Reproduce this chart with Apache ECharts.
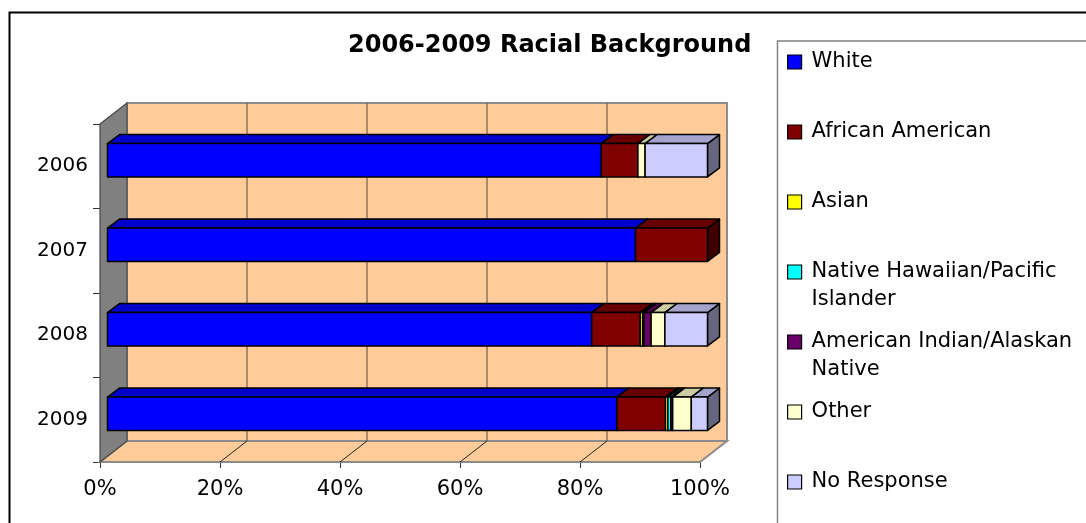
<!DOCTYPE html>
<html>
<head>
<meta charset="utf-8">
<script src="https://cdn.jsdelivr.net/npm/echarts@6/dist/echarts.min.js"></script>
<style>
  html, body { margin: 0; padding: 0; background: #fff; }
  #chart { width: 1086px; height: 523px; }
</style>
</head>
<body>
<div id="chart"></div>
<script>
// Survey years (rows) and the share of each racial group per year, in percent
const categories = ['2006', '2007', '2008', '2009'];
const white            = [82.3, 88.0, 80.7, 84.9];
const africanAmerican  = [6.1, 12.0, 8.1, 8.1];
const asian            = [0, 0, 0.4, 0.4];
const nativeHawaiian   = [0, 0, 0.2, 0.5];
const americanIndian   = [0, 0, 1.2, 0.3];
const other            = [1.2, 0, 2.3, 3.1];
const noResponse       = [10.4, 0, 7.1, 2.7];
const xTicks = [0, 20, 40, 60, 80, 100];

const groups = [
  { name: 'White', values: white, color: '#0000FF' },
  { name: 'African American', values: africanAmerican, color: '#800000' },
  { name: 'Asian', values: asian, color: '#FFFF00' },
  { name: 'Native Hawaiian/Pacific Islander', values: nativeHawaiian, color: '#00FFFF', label: 'Native Hawaiian/Pacific\nIslander' },
  { name: 'American Indian/Alaskan Native', values: americanIndian, color: '#660066', label: 'American Indian/Alaskan\nNative' },
  { name: 'Other', values: other, color: '#FFFFCC' },
  { name: 'No Response', values: noResponse, color: '#CCCCFF' }
];

const FONT = 'DejaVu Sans';
// depth of the chart box (back wall offset) and of each bar
const WALL_DX = 27, WALL_DY = 21;
const BAR_DX = 12, BAR_DY = 9;
const BAR_OX = (WALL_DX - BAR_DX) / 2, BAR_OY = (WALL_DY - BAR_DY) / 2;
const BAR_RATIO = 0.394;

function shade(hex, k) {
  const n = parseInt(hex.slice(1), 16);
  const r = Math.round(((n >> 16) & 255) * k);
  const g = Math.round(((n >> 8) & 255) * k);
  const b = Math.round((n & 255) * k);
  return 'rgb(' + r + ',' + g + ',' + b + ')';
}

// cumulative starting point of each segment per year
const starts = groups.map(() => categories.map(() => 0));
categories.forEach((c, ci) => {
  let acc = 0;
  groups.forEach((g, gi) => { starts[gi][ci] = acc; acc += g.values[ci]; });
});

// back wall, side wall, floor and gridlines
function renderWalls(params, api) {
  const cs = params.coordSys;
  const top = cs.y, bottom = cs.y + cs.height;
  const x0 = api.coord([0, 0])[0];
  const x100 = api.coord([100, 0])[0];
  const children = [];
  // back wall
  children.push({
    type: 'polygon',
    shape: { points: [[x0 + WALL_DX, top - WALL_DY], [x100 + WALL_DX, top - WALL_DY], [x100 + WALL_DX, bottom - WALL_DY], [x0 + WALL_DX, bottom - WALL_DY]] },
    style: { fill: '#FFCC99', stroke: '#8c8c8c', lineWidth: 2 }
  });
  // floor
  children.push({
    type: 'polygon',
    shape: { points: [[x0, bottom], [x0 + WALL_DX, bottom - WALL_DY], [x100 + WALL_DX, bottom - WALL_DY], [x100, bottom]] },
    style: { fill: '#FFCC99', stroke: '#8c8c8c', lineWidth: 2 }
  });
  // gridlines on the back wall and across the floor
  xTicks.forEach(v => {
    if (v === 0 || v === 100) return;
    const x = api.coord([v, 0])[0];
    children.push({
      type: 'line',
      shape: { x1: x + WALL_DX, y1: top - WALL_DY, x2: x + WALL_DX, y2: bottom - WALL_DY },
      style: { stroke: '#806650', lineWidth: 1.3 }
    });
    children.push({
      type: 'line',
      shape: { x1: x + WALL_DX, y1: bottom - WALL_DY, x2: x, y2: bottom },
      style: { stroke: '#222', lineWidth: 1 }
    });
  });
  // left side wall
  children.push({
    type: 'polygon',
    shape: { points: [[x0, top], [x0 + WALL_DX, top - WALL_DY], [x0 + WALL_DX, bottom - WALL_DY], [x0, bottom]] },
    style: { fill: '#808080', stroke: '#4a4a4a', lineWidth: 1.2 }
  });
  return { type: 'group', children: children };
}

// one 3D box segment of a stacked bar
function makeBarRenderer(color) {
  const topColor = shade(color, 0.8);
  const sideColor = shade(color, 0.5);
  return function (params, api) {
    const cat = api.value(0);
    const start = api.value(1);
    const val = api.value(2);
    if (!(val > 0)) return null;
    const p0 = api.coord([start, cat]);
    const p1 = api.coord([start + val, cat]);
    const band = api.size([0, 1])[1];
    const h = band * BAR_RATIO;
    const xa = p0[0] + BAR_OX, xb = p1[0] + BAR_OX;
    const yc = p0[1] - BAR_OY;
    const yt = yc - h / 2, yb = yc + h / 2;
    const line = { stroke: '#000', lineWidth: 1.5, lineJoin: 'round' };
    return {
      type: 'group',
      children: [
        { type: 'polygon', shape: { points: [[xb, yt], [xb + BAR_DX, yt - BAR_DY], [xb + BAR_DX, yb - BAR_DY], [xb, yb]] },
          style: Object.assign({ fill: sideColor }, line) },
        { type: 'polygon', shape: { points: [[xa, yt], [xb, yt], [xb + BAR_DX, yt - BAR_DY], [xa + BAR_DX, yt - BAR_DY]] },
          style: Object.assign({ fill: topColor }, line) },
        { type: 'polygon', shape: { points: [[xa, yt], [xb, yt], [xb, yb], [xa, yb]] },
          style: Object.assign({ fill: color }, line) }
      ]
    };
  };
}

const series = [{
  type: 'custom',
  name: 'walls',
  silent: true,
  z: 1,
  renderItem: renderWalls,
  encode: { x: 1, y: 0 },
  data: [[0, 0]]
}];
groups.forEach((g, gi) => {
  series.push({
    type: 'custom',
    name: g.name,
    z: 2 + gi,
    itemStyle: { color: g.color },
    renderItem: makeBarRenderer(g.color),
    encode: { y: 0, x: [1, 2] },
    data: categories.map((c, ci) => [ci, starts[gi][ci], g.values[ci]])
  });
});

// one legend block per group, stacked at a fixed pitch; for two-line
// names a blank first line keeps the swatch level with the first text line
const LINE_H = 28;
const legends = groups.map((g, gi) => {
  const center = 62 + 70 * gi;
  const multi = !!g.label;
  return {
    orient: 'vertical',
    left: 787,
    top: multi ? center - LINE_H * 1.5 : center - LINE_H / 2,
    padding: 0,
    icon: 'rect',
    itemWidth: 14,
    itemHeight: 14,
    selectedMode: false,
    itemStyle: { borderColor: '#000', borderWidth: 1.2 },
    formatter: () => multi ? ' \n' + g.label : g.name,
    textStyle: {
      fontFamily: FONT, fontSize: 21, color: '#000', lineHeight: LINE_H,
      padding: [0, 0, 0, 5]
    },
    data: [{ name: g.name, itemStyle: { color: g.color, borderColor: '#000', borderWidth: 1.2 } }]
  };
});

const chart = echarts.init(document.getElementById('chart'), null, { renderer: 'canvas' });
chart.setOption({
  animation: false,
  backgroundColor: '#fff',
  title: {
    text: '2006-2009 Racial Background',
    left: 348,
    top: 34,
    padding: 0,
    textStyle: { fontFamily: FONT, fontWeight: 'bold', fontSize: 24, lineHeight: 24, color: '#000' }
  },
  legend: legends,
  grid: { left: 100, top: 124, width: 600, height: 338, containLabel: false },
  xAxis: {
    type: 'value',
    min: 0, max: 100, interval: 20,
    axisLine: { show: true, lineStyle: { color: '#808080', width: 1 } },
    axisTick: { show: true, length: 6, lineStyle: { color: '#333', width: 1 } },
    splitLine: { show: false },
    axisLabel: { formatter: '{value}%', fontFamily: FONT, fontSize: 21, lineHeight: 21, color: '#000', margin: 17 }
  },
  yAxis: {
    type: 'category',
    inverse: true,
    data: categories,
    axisLine: { show: true, lineStyle: { color: '#333', width: 1 } },
    axisTick: { show: true, length: 7, lineStyle: { color: '#333', width: 1 } },
    axisLabel: { fontFamily: FONT, fontSize: 20, color: '#000', margin: 12 }
  },
  graphic: [
    { type: 'rect', left: 7, top: 10, z: 100, silent: true,
      shape: { x: 0, y: 0, width: 1200, height: 700 },
      style: { fill: 'none', stroke: '#000', lineWidth: 2 } },
    { type: 'rect', z: 100, silent: true,
      shape: { x: 777.5, y: 41, width: 400, height: 600 },
      style: { fill: 'none', stroke: '#808080', lineWidth: 1.5 } }
  ],
  series: series
});
</script>
</body>
</html>
